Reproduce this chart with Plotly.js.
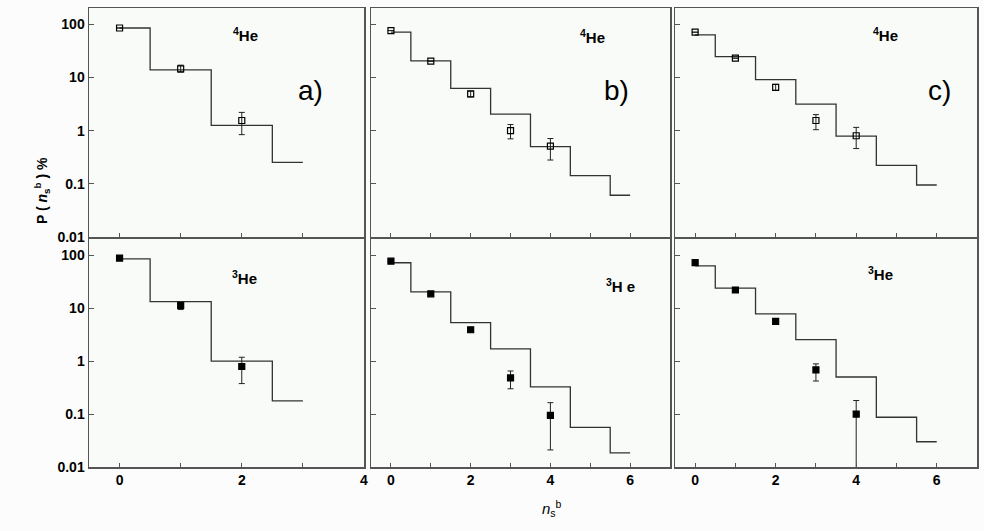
<!DOCTYPE html>
<html><head><meta charset="utf-8">
<script src="https://cdn.plot.ly/plotly-3.0.1.min.js"></script>
<style>html,body{margin:0;padding:0;background:#fbfcfb;}#chart{width:984px;height:531px;}</style>
</head><body><div id="chart"></div>
<script>
// ---- data ----
const histX3 = [0, 1, 2, 3];
const histX6 = [0, 1, 2, 3, 4, 5, 6];
const ptsX3 = [0, 1, 2];
const ptsX5 = [0, 1, 2, 3, 4];

// a) 4He (top) and 3He (bottom)
const histA4 = [85, 13.9, 1.25, 0.253];
const ptsA4 = [85, 14.5, 1.55];
const hiA4 = [85, 17, 2.2];
const loA4 = [85, 12.6, 0.84];
const histA3 = [85, 13.3, 1.0, 0.177];
const ptsA3 = [88, 11.3, 0.79];
const hiA3 = [88, 12.6, 1.18];
const loA3 = [88, 9.4, 0.376];

// b)
const histB4 = [70.8, 20.5, 6.2, 2.05, 0.5, 0.143, 0.061];
const ptsB4 = [76, 20.2, 4.9, 1.0, 0.51];
const hiB4 = [76, 20.2, 5.5, 1.3, 0.71];
const loB4 = [76, 20.2, 4.3, 0.70, 0.28];
const histB3 = [71.8, 20.3, 5.3, 1.7, 0.325, 0.056, 0.0184];
const ptsB3 = [77, 18.6, 3.9, 0.48, 0.094];
const hiB3 = [77, 18.6, 4.3, 0.65, 0.164];
const loB3 = [77, 18.6, 3.6, 0.30, 0.021];

// c)
const histC4 = [63, 24.7, 9.1, 3.15, 0.79, 0.222, 0.095];
const ptsC4 = [70.8, 23, 6.5, 1.55, 0.80];
const hiC4 = [70.8, 23, 7.4, 2.0, 1.15];
const loC4 = [70.8, 23, 5.7, 1.04, 0.46];
const histC3 = [63, 23.8, 7.8, 2.55, 0.50, 0.087, 0.030];
const ptsC3 = [72, 22, 5.6, 0.68, 0.1];
const hiC3 = [72, 22, 6.0, 0.885, 0.18];
const loC3 = [72, 22, 5.2, 0.42, 0.001];

const yTickVals = [0.01, 0.1, 1, 10, 100];
const yTickText = ['0.01', '0.1', '1', '10', '100'];
const yMinorMult = [2, 3, 4, 5, 6, 7, 8, 9];
const xTickVals4 = [0, 1, 2, 3, 4];
const xTickText4 = ['0', '', '2', '', '4'];
const xTickVals6 = [0, 1, 2, 3, 4, 5, 6];
const xTickText6 = ['0', '', '2', '', '4', '', '6'];

// ---- build ----
const yMinorVals = [];
[0.01, 0.1, 1, 10, 100].forEach(d => yMinorMult.forEach(m => yMinorVals.push(d * m)));
const lineCol = '#333333';
function hist(x, y, ax) {
  return {x: x, y: y, xaxis: 'x' + ax, yaxis: 'y' + ax, type: 'scatter', mode: 'lines',
    line: {shape: 'hvh', color: lineCol, width: 1.3}, hoverinfo: 'skip', showlegend: false};
}
function pts(x, y, hi, lo, ax, open) {
  return {x: x, y: y, xaxis: 'x' + ax, yaxis: 'y' + ax, type: 'scatter', mode: 'markers',
    marker: {symbol: open ? 'square-open' : 'square', size: 6, color: '#000',
      line: {color: '#000', width: 1.2}},
    error_y: {type: 'data', symmetric: false,
      array: hi.map((h, i) => h - y[i]), arrayminus: lo.map((l, i) => y[i] - l),
      color: '#222', thickness: 1, width: 3},
    showlegend: false, cliponaxis: true};
}
const data = [
  hist(histX3, histA4, ''), pts(ptsX3, ptsA4, hiA4, loA4, '', true),
  hist(histX6, histB4, '2'), pts(ptsX5, ptsB4, hiB4, loB4, '2', true),
  hist(histX6, histC4, '3'), pts(ptsX5, ptsC4, hiC4, loC4, '3', true),
  hist(histX3, histA3, '4'), pts(ptsX3, ptsA3, hiA3, loA3, '4', false),
  hist(histX6, histB3, '5'), pts(ptsX5, ptsB3, hiB3, loB3, '5', false),
  hist(histX6, histC3, '6'), pts(ptsX5, ptsC3, hiC3, loC3, '6', false)
];

const W = 984, H = 531;
const xd = [[89 / W, 364 / W], [371 / W, 670 / W], [675 / W, 977 / W]];
const yd = [[1 - 237 / H, 1 - 8 / H], [1 - 467 / H, 1 - 239 / H]];
const frameCol = '#555555';
const tickFontX = {family: 'Liberation Sans Narrow, Liberation Sans, Arial', size: 14, color: '#000', weight: 'bold'};
const tickFontY = {family: 'Liberation Sans, Arial', size: 14, color: '#000', weight: 'bold'};

function sfx(n) { return n === 1 ? '' : String(n); }
function xax(col, row) {
  const rng = col === 0 ? [-0.5, 4] : [-0.5, 7];
  return {domain: xd[col], range: rng, anchor: 'y' + sfx(row * 3 + col + 1),
    showgrid: false, zeroline: false, showline: true, mirror: true, linecolor: frameCol, linewidth: 1.5,
    ticks: 'inside', ticklen: 4, tickcolor: frameCol, tickwidth: 1,
    tickvals: col === 0 ? xTickVals4 : xTickVals6, ticktext: col === 0 ? xTickText4 : xTickText6,
    showticklabels: row === 1, tickfont: tickFontX};
}
function yax(col, row) {
  return {domain: yd[row], type: 'log', range: [-2, 2.305],
    anchor: 'x' + sfx(row * 3 + col + 1),
    showgrid: false, zeroline: false, showline: true, mirror: true, linecolor: frameCol, linewidth: 1.5,
    ticks: 'inside', ticklen: 5, tickcolor: frameCol, tickwidth: 1,
    tickvals: yTickVals, ticktext: yTickText, showticklabels: col === 0, tickfont: tickFontY};
}
function yMinorAx(n) {
  return {type: 'log', range: [-2, 2.305], overlaying: 'y' + sfx(n), anchor: 'x' + sfx(n), side: 'left',
    showgrid: false, zeroline: false, showline: false,
    ticks: 'inside', ticklen: 3, tickcolor: '#777', tickwidth: 1,
    tickvals: yMinorVals, showticklabels: false};
}
const layout = {
  width: W, height: H, margin: {l: 0, r: 0, t: 0, b: 0},
  paper_bgcolor: '#fbfcfb', plot_bgcolor: '#f9fbf9', showlegend: false,
  font: {family: 'Liberation Sans, Arial', color: '#000'},
  annotations: []
};
let k = 1;
for (let row = 0; row < 2; row++) {
  for (let col = 0; col < 3; col++) {
    layout['xaxis' + sfx(k)] = xax(col, row);
    layout['yaxis' + sfx(k)] = yax(col, row);
    layout['yaxis' + (k + 6)] = yMinorAx(k);
    k++;
  }
}
function ann(text, px, py, size, weight, extra) {
  return Object.assign({text: text, xref: 'paper', yref: 'paper', x: px / W, y: 1 - py / H,
    xanchor: 'center', yanchor: 'middle', showarrow: false,
    font: {family: 'Liberation Sans, Arial', size: size, color: '#000', weight: weight}}, extra || {});
}
const heLabels = [
  ['<sup>4</sup>He', 245, 34], ['<sup>4</sup>He', 592, 36], ['<sup>4</sup>He', 885, 34],
  ['<sup>3</sup>He', 244, 277], ['<sup>3</sup>H e', 620, 285], ['<sup>3</sup>He', 880, 273]
];
heLabels.forEach(h => layout.annotations.push(ann(h[0], h[1], h[2], 15, 'bold')));
[['a)', 310, 90], ['b)', 616, 90], ['c)', 939, 90]].forEach(h =>
  layout.annotations.push(ann(h[0], h[1], h[2], 28, 'normal')));
layout.annotations.push(ann('P ( <i>n</i><sub>s</sub><sup>b</sup> ) %', 42, 191, 14, 'bold', {textangle: -90}));
layout.annotations.push(ann('<i>n</i><sub>s</sub><sup>b</sup>', 552, 508, 15, 'normal'));

Plotly.newPlot('chart', data, layout, {staticPlot: true});
</script></body></html>
